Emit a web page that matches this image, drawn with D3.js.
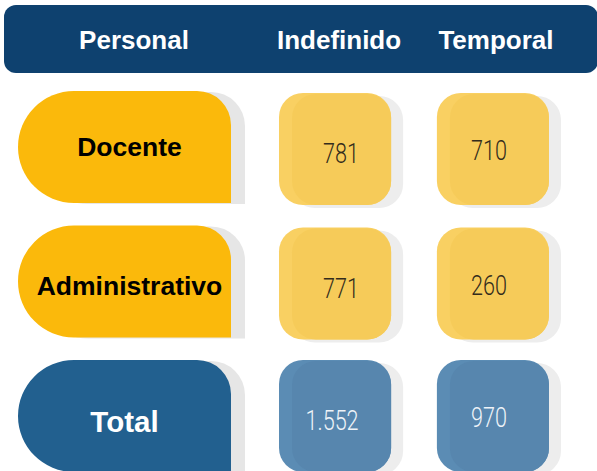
<!DOCTYPE html>
<html>
<head>
<meta charset="utf-8">
<script src="https://cdn.jsdelivr.net/npm/d3@7"></script>
<style>
  body { margin: 0; background: #fff; }
  svg { display: block; }
</style>
</head>
<body>
<svg id="chart"></svg>
<script>
// Data
const personal = ["Docente", "Administrativo", "Total"];
const tipos = ["Indefinido", "Temporal"];
const indefinido = [781, 771, 1552];
const temporal = [710, 260, 970];
const headerLabels = ["Personal", "Indefinido", "Temporal"];

const width = 597;
const height = 471;

const svg = d3.select("#chart")
    .attr("width", width)
    .attr("height", height);

// Number format with dot as thousands separator
const fmt = d3.formatLocale({ decimal: ",", thousands: ".", grouping: [3], currency: ["", ""] }).format(",");

// Scales for rows and value columns
const y = d3.scaleBand()
    .domain(personal)
    .range([91, 472])
    .paddingInner(0.167);

const x = d3.scaleBand()
    .domain(tipos)
    .range([279, 549])
    .paddingInner(0.29);

const labelX = 18;
const labelW = 213;

// Colors
const yellowLabel = "#fbb90b";
const blueLabel = "#22608f";
const boxColors = {
    yellow: { light: "#f9d062", main: "#f6cb59", text: "#332c1c" },
    blue: { light: "#5b8cb4", main: "#5786ae", text: "#eef3f8" }
};

// Header bar
svg.append("rect")
    .attr("x", 4)
    .attr("y", 5)
    .attr("width", 594)
    .attr("height", 68)
    .attr("rx", 12)
    .attr("fill", "#0e416f");

const headerX = [134, x("Indefinido") + x.bandwidth() / 2 + 4, x("Temporal") + x.bandwidth() / 2 + 3];
svg.selectAll(".header-text")
    .data(headerLabels)
    .enter()
    .append("text")
    .attr("class", "header-text")
    .attr("x", (d, i) => headerX[i])
    .attr("y", 40)
    .attr("text-anchor", "middle")
    .attr("dominant-baseline", "central")
    .style("font-family", "'Liberation Sans', Arial, sans-serif")
    .style("font-weight", "bold")
    .style("font-size", "26px")
    .attr("fill", "#ffffff")
    .text(d => d);

// Label shape: half round on the left, rounded top right corner
function labelPath(x0, y0, w, h, rr) {
    const r = h / 2;
    return `M${x0 + r},${y0} H${x0 + w - rr} A${rr},${rr} 0 0 1 ${x0 + w},${y0 + rr}` +
        ` V${y0 + h} H${x0 + r} A${r},${r} 0 0 1 ${x0 + r},${y0} Z`;
}

const rows = svg.selectAll(".row")
    .data(personal)
    .enter()
    .append("g")
    .attr("class", "row");

// shadow of label
rows.append("path")
    .attr("d", d => labelPath(labelX + 14, y(d) + 1, labelW, y.bandwidth(), 34))
    .attr("fill", "#e6e6e6");

rows.append("path")
    .attr("d", d => labelPath(labelX, y(d), labelW, y.bandwidth(), 34))
    .attr("fill", d => d === "Total" ? blueLabel : yellowLabel);

const labelDy = [0, 4, 6];
rows.append("text")
    .attr("x", d => labelX + labelW / 2 + (d === "Total" ? 0 : 5))
    .attr("y", (d, i) => y(d) + y.bandwidth() / 2 + labelDy[i])
    .attr("text-anchor", "middle")
    .attr("dominant-baseline", "central")
    .style("font-family", "'Liberation Sans', Arial, sans-serif")
    .style("font-weight", "bold")
    .style("font-size", d => d === "Total" ? "29.5px" : "26.5px")
    .attr("fill", d => d === "Total" ? "#ffffff" : "#000000")
    .text(d => d);

// Value boxes
const cells = [];
personal.forEach((p, i) => {
    cells.push({ row: p, col: "Indefinido", value: indefinido[i] });
    cells.push({ row: p, col: "Temporal", value: temporal[i] });
});

const boxH = 112;

const cellG = svg.selectAll(".cell")
    .data(cells)
    .enter()
    .append("g")
    .attr("class", "cell")
    .attr("transform", d => `translate(${x(d.col)}, ${y(d.row) + (d.row === "Total" ? 0 : 2)})`);

cellG.append("rect")
    .attr("x", 12)
    .attr("y", 3)
    .attr("width", x.bandwidth())
    .attr("height", boxH)
    .attr("rx", 24)
    .attr("fill", "#ededed");

cellG.append("rect")
    .attr("width", x.bandwidth())
    .attr("height", boxH)
    .attr("rx", 24)
    .attr("fill", d => boxColors[d.row === "Total" ? "blue" : "yellow"].light);

cellG.append("rect")
    .attr("x", 13)
    .attr("y", 1)
    .attr("width", x.bandwidth() - 13)
    .attr("height", boxH - 1)
    .attr("rx", 24)
    .attr("fill", d => boxColors[d.row === "Total" ? "blue" : "yellow"].main);

cellG.append("g")
    .attr("transform", d => {
        const dx = d.col === "Indefinido" ? (d.value >= 1000 ? -3 : 6) : -4;
        const dy = d.col === "Indefinido" ? 5 : 2;
        return `translate(${x.bandwidth() / 2 + dx}, ${boxH / 2 + dy}) scale(0.8, 1)`;
    })
    .append("text")
    .attr("text-anchor", "middle")
    .attr("dominant-baseline", "central")
    .style("font-family", "Roboto, 'Open Sans', sans-serif")
    .style("font-weight", "300")
    .style("font-size", "27px")
    .attr("fill", d => boxColors[d.row === "Total" ? "blue" : "yellow"].text)
    .text(d => fmt(d.value));
</script>
</body>
</html>
